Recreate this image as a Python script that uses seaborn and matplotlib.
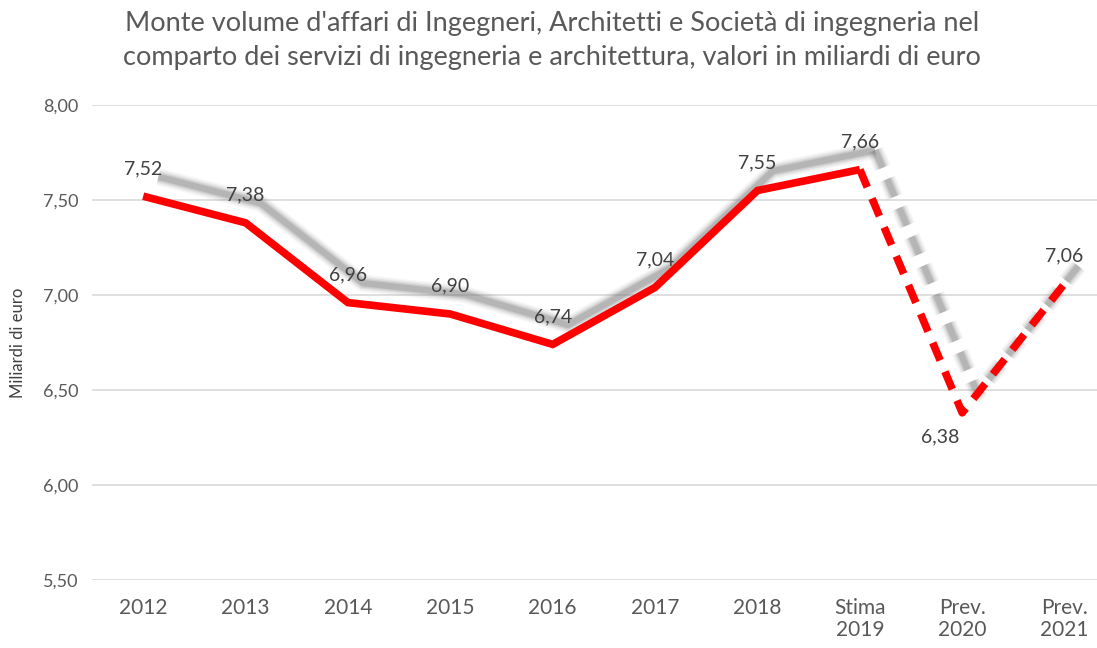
import numpy as np
import pandas as pd
import matplotlib
matplotlib.use("Agg")
import matplotlib.pyplot as plt
import matplotlib.patheffects as pe
from matplotlib.ticker import FuncFormatter
import seaborn as sns

# dati (miliardi di euro)
categories = ["2012", "2013", "2014", "2015", "2016", "2017", "2018",
              "Stima\n2019", "Prev.\n2020", "Prev.\n2021"]
values = [7.52, 7.38, 6.96, 6.90, 6.74, 7.04, 7.55, 7.66, 6.38, 7.06]
n_actual = 8          # 2012 .. Stima 2019 -> linea continua, poi previsioni tratteggiate
y_ticks = [5.5, 6.0, 6.5, 7.0, 7.5, 8.0]

title = ("Monte volume d'affari di Ingegneri, Architetti e Società di ingegneria nel\n"
         "comparto dei servizi di ingegneria e architettura, valori in miliardi di euro")
y_label = "Miliardi di euro"

sns.set_style("white")
plt.rcParams['font.family'] = ['Lato', 'DejaVu Sans']

df = pd.DataFrame({"pos": np.arange(len(values)), "val": values})
df_solid = df.iloc[:n_actual]
df_dash = df.iloc[n_actual - 1:]

fig = plt.figure(figsize=(10.97, 6.48), dpi=100)
ax = fig.add_axes([92 / 1097, 68 / 648, (1097 - 92) / 1097, 475 / 648])

red = "#ff0000"
lw = 5.5
off = (11, 14)
# ombra sfumata: piu' passate grigie semitrasparenti
shadow = [pe.SimpleLineShadow(offset=off, shadow_color="#808080", alpha=a, linewidth=lw + w)
          for w, a in [(7, 0.06), (5, 0.08), (3, 0.12), (1, 0.2), (-1, 0.3)]]
shadow.append(pe.Normal())

sns.lineplot(data=df_solid, x="pos", y="val", ax=ax, color=red, linewidth=lw,
             solid_joinstyle="miter", solid_capstyle="butt")
sns.lineplot(data=df_dash, x="pos", y="val", ax=ax, color=red, linewidth=lw,
             dash_capstyle="butt")
ax.lines[0].set_path_effects(shadow)
ax.lines[1].set_linestyle((0, (2.5, 1.6)))
ax.lines[1].set_path_effects(shadow)

# etichette dei valori
label_offsets = [(0, 20)] * len(values)
label_offsets[8] = (-16, -17)
for i, v in enumerate(values):
    ax.annotate(f"{v:.2f}".replace(".", ","), (i, v), xytext=label_offsets[i],
                textcoords="offset points", ha="center", va="center",
                fontsize=14, color="#404040")

ax.set_xlim(-0.5, (1097 - 143) / 102.4)
ax.set_ylim(5.5, 8.0)
ax.set_xticks(np.arange(len(categories)))
ax.set_xticklabels(categories, fontsize=15, color="#595959", linespacing=1.15)
ax.set_yticks(y_ticks)
ax.yaxis.set_major_formatter(FuncFormatter(lambda y, _: f"{y:.2f}".replace(".", ",")))
ax.tick_params(axis="y", labelsize=13, labelcolor="#595959", length=0, pad=10)
ax.tick_params(axis="x", length=0, pad=13)
ax.grid(axis="y", color="#d9d9d9", linewidth=1.2)
ax.set_axisbelow(True)
for s in ax.spines.values():
    s.set_visible(False)
ax.set_xlabel("")
ax.set_ylabel(y_label, fontsize=12, color="#404040")
ax.yaxis.set_label_coords(-66 / 1005, 0.5)

fig.text(552 / 1097, 1 - 40 / 648, title, ha="center", va="center",
         fontsize=19.5, color="#595959", linespacing=1.45)

fig.savefig("out.png", dpi=100)
